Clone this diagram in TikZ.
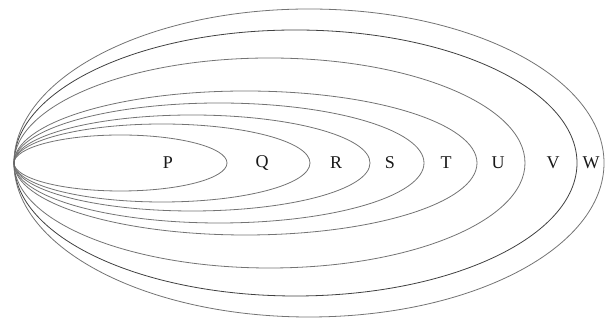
\documentclass[tikz,border=0pt]{standalone}
\usepackage{fontspec}
\setmainfont{Liberation Serif}
\begin{document}
\begin{tikzpicture}[x=1pt,y=1pt,
  el/.style={draw=black!55,line width=0.8pt},
  lab/.style={font=\fontsize{18}{18}\selectfont,text=black!90,inner sep=0pt}]
\useasboundingbox (0,0) rectangle (605,320);
\coordinate (tip) at (14,157);
\draw[el] (120.5,157) ellipse [x radius=106.5, y radius=28];
\draw[el] (162,157) ellipse [x radius=148, y radius=39];
\draw[el] (192,157) ellipse [x radius=178, y radius=48];
\draw[el] (219,157) ellipse [x radius=205, y radius=60];
\draw[el] (245.5,157) ellipse [x radius=231.5, y radius=72];
\draw[el] (269.5,157) ellipse [x radius=255.5, y radius=105];
\draw[el,draw=black!75] (295.5,157) ellipse [x radius=281.5, y radius=133];
\draw[el] (309,157) ellipse [x radius=295, y radius=154];
\node[lab] (P) at (168,157) {P};
\node[lab] (Q) at (262,157) {Q};
\node[lab] (R) at (336,157) {R};
\node[lab] (S) at (390,157) {S};
\node[lab] (T) at (446,157) {T};
\node[lab] (U) at (498,157) {U};
\node[lab] (V) at (553,157) {V};
\node[lab] (W) at (591,157) {W};
\end{tikzpicture}
\end{document}
